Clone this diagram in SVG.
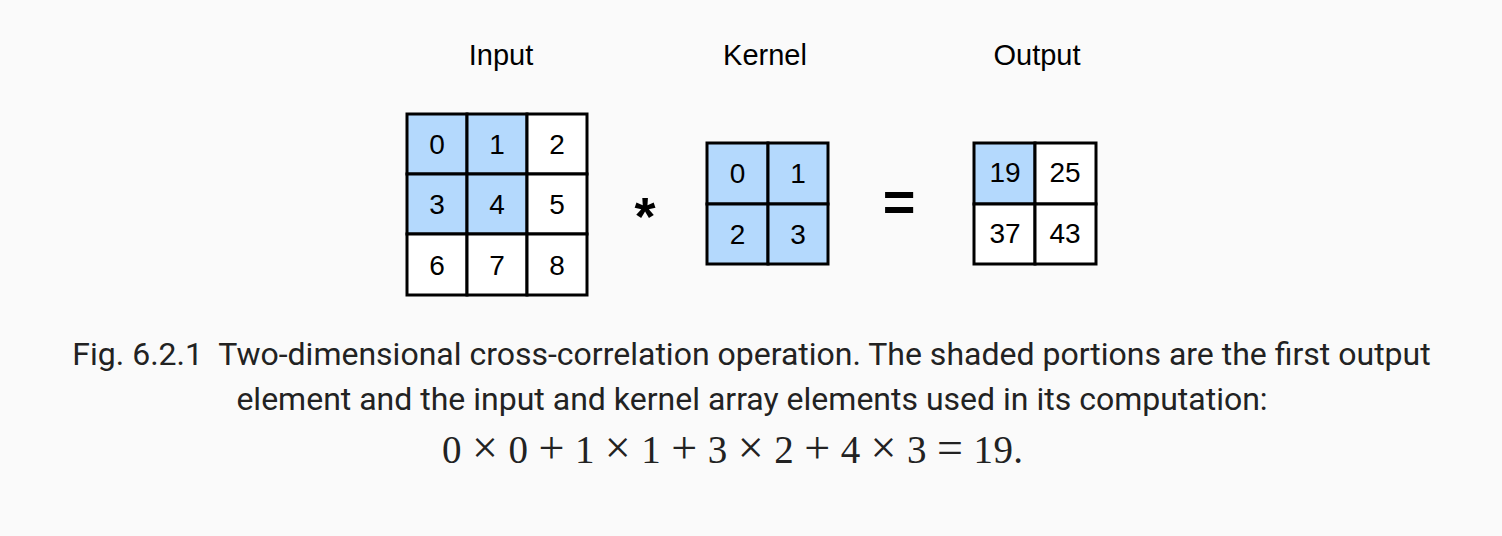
<svg xmlns="http://www.w3.org/2000/svg" width="1502" height="536" viewBox="0 0 1502 536">
<style>
.cell{stroke:#000;stroke-width:3;}
.on{fill:#b4d9fd;}
.off{fill:#ffffff;}
.d{font-family:"Liberation Sans",Arial,sans-serif;font-size:28px;fill:#000;text-anchor:middle;}
.lbl{font-family:"Liberation Sans",Arial,sans-serif;font-size:29px;fill:#000;text-anchor:middle;}
.cap{font-family:Roboto,"Noto Sans",sans-serif;font-size:32px;fill:#222;text-anchor:middle;}
.math{font-family:"Liberation Serif","Times New Roman",serif;font-size:39px;fill:#222;}
.mo{font-size:46px;}
.op{font-family:"Liberation Sans",Arial,sans-serif;font-weight:bold;fill:#000;text-anchor:middle;}
</style>
<rect width="1502" height="536" fill="#fafafa"/>
<g id="labels">
<text class="lbl" x="501" y="65">Input</text>
<text class="lbl" x="765" y="65">Kernel</text>
<text class="lbl" x="1037" y="65">Output</text>
</g>
<g id="input">
<rect class="cell on" x="407" y="114" width="60" height="60"/>
<rect class="cell on" x="467" y="114" width="60" height="60"/>
<rect class="cell off" x="527" y="114" width="60" height="60"/>
<rect class="cell on" x="407" y="174" width="60" height="60"/>
<rect class="cell on" x="467" y="174" width="60" height="60"/>
<rect class="cell off" x="527" y="174" width="60" height="60"/>
<rect class="cell off" x="407" y="234" width="60" height="61"/>
<rect class="cell off" x="467" y="234" width="60" height="61"/>
<rect class="cell off" x="527" y="234" width="60" height="61"/>
<text class="d" x="437" y="154">0</text>
<text class="d" x="497" y="154">1</text>
<text class="d" x="557" y="154">2</text>
<text class="d" x="437" y="214">3</text>
<text class="d" x="497" y="214">4</text>
<text class="d" x="557" y="214">5</text>
<text class="d" x="437" y="275">6</text>
<text class="d" x="497" y="275">7</text>
<text class="d" x="557" y="275">8</text>
</g>
<g id="star">
<text class="op" x="645" y="235" font-size="54">*</text>
</g>
<g id="kernel">
<rect class="cell on" x="707" y="143" width="61" height="61"/>
<rect class="cell on" x="768" y="143" width="60" height="61"/>
<rect class="cell on" x="707" y="204" width="61" height="60"/>
<rect class="cell on" x="768" y="204" width="60" height="60"/>
<text class="d" x="737.5" y="183">0</text>
<text class="d" x="798" y="183">1</text>
<text class="d" x="737.5" y="244">2</text>
<text class="d" x="798" y="244">3</text>
</g>
<g id="equals">
<text class="op" x="899" y="221" font-size="56">=</text>
</g>
<g id="output">
<rect class="cell on" x="974" y="143" width="61" height="61"/>
<rect class="cell off" x="1035" y="143" width="61" height="61"/>
<rect class="cell off" x="974" y="204" width="61" height="60"/>
<rect class="cell off" x="1035" y="204" width="61" height="60"/>
<text class="d" x="1005" y="182">19</text>
<text class="d" x="1065" y="182">25</text>
<text class="d" x="1005" y="243">37</text>
<text class="d" x="1065" y="243">43</text>
</g>
<g id="connectors"/>
<g id="caption">
<text class="cap" x="751.5" y="365">Fig. 6.2.1&#160; Two-dimensional cross-correlation operation. The shaded portions are the first output</text>
<text class="cap" x="752" y="410">element and the input and kernel array elements used in its computation:</text>
<text class="math" x="442" y="463" textLength="581" lengthAdjust="spacing">0 <tspan class="mo">×</tspan> 0 <tspan class="mo">+</tspan> 1 <tspan class="mo">×</tspan> 1 <tspan class="mo">+</tspan> 3 <tspan class="mo">×</tspan> 2 <tspan class="mo">+</tspan> 4 <tspan class="mo">×</tspan> 3 <tspan class="mo">=</tspan> 19.</text>
</g>
</svg>
